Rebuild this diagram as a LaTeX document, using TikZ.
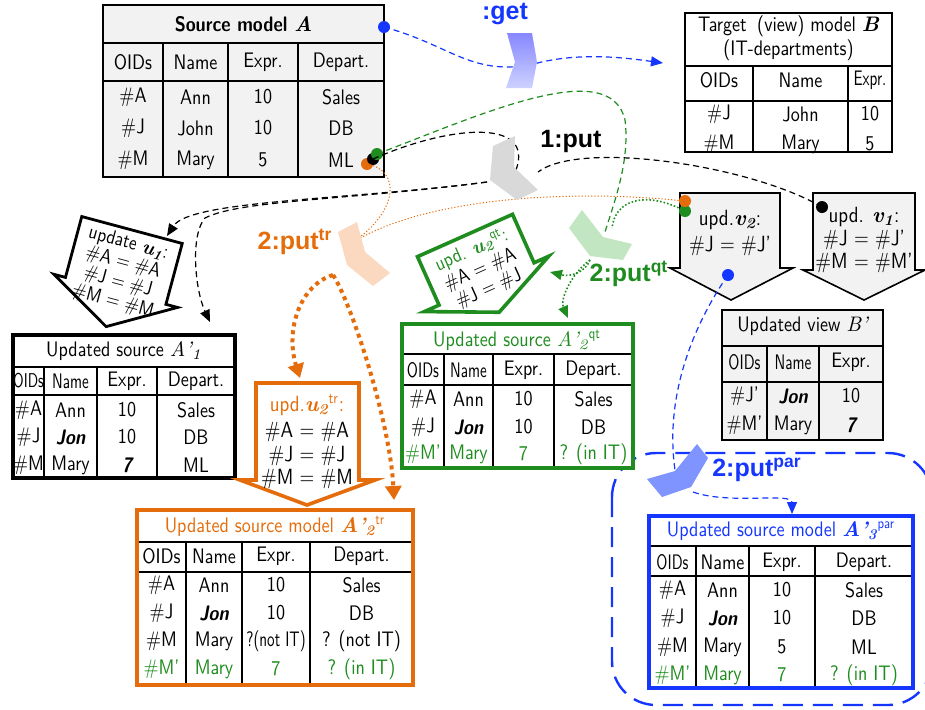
\documentclass[tikz,border=0pt]{standalone}
\usepackage{fontspec}
\usetikzlibrary{arrows.meta}
\newfontfamily\cf{lmsans10-regular}[Extension=.otf,FakeStretch=0.86,BoldFont=lmsans10-bold,ItalicFont=lmsans10-oblique,BoldItalicFont=lmsans10-boldoblique]
\newfontfamily\cfn{lmsans10-regular}[Extension=.otf,FakeStretch=0.72]
\newfontfamily\lf{Liberation Sans}
\definecolor{cor}{HTML}{E46C0A}
\definecolor{cgr}{HTML}{1E8C1E}
\definecolor{cbl}{HTML}{1436FF}
\definecolor{tgray}{HTML}{F2F2F2}
\definecolor{chgray}{HTML}{D9D9D9}
\definecolor{chor}{HTML}{FAD9C0}
\definecolor{chgr}{HTML}{C2E6C2}
\definecolor{chbl}{HTML}{7F94FF}
\newcommand\mv[1]{{\rmfamily\bfseries\itshape #1}}
\newcommand\mvn[1]{{\rmfamily\itshape #1}}
\newcommand\tightlines{\lineskiplimit -10pt\relax}
\tikzset{
  cell/.style={font=\cf\fontsize{10.5}{12}\selectfont, inner sep=0pt, anchor=center},
  atext/.style={font=\cf\fontsize{11}{12}\selectfont, inner sep=0pt, anchor=center},
  rtext/.style={font=\cf\fontsize{10}{10}\selectfont, inner sep=0pt, anchor=center, transform shape, align=center},
  rtextb/.style={font=\cf\fontsize{10}{10.5}\selectfont, inner sep=0pt, anchor=center, transform shape, align=center},
  lab/.style={font=\lf\bfseries\fontsize{12.5}{14}\selectfont, inner sep=0pt, anchor=center},
  thin/.style={line width=0.7pt},
  frame/.style={line width=0.9pt},
  thickframe/.style={line width=1.8pt},
  dot/.style={circle, inner sep=0pt, minimum size=6pt},
  kdash/.style={black, line width=0.6pt, dash pattern=on 3pt off 2pt},
  gdash/.style={cgr, line width=0.6pt, dash pattern=on 3pt off 2pt},
  bdash/.style={cbl, line width=0.6pt, dash pattern=on 3pt off 2pt},
  othin/.style={cor, line width=0.5pt, dash pattern=on 0.6pt off 1pt},
  othick/.style={cor, line width=2pt, dash pattern=on 2pt off 2pt},
  gdot/.style={cgr, line width=0.8pt, dash pattern=on 0.8pt off 1pt},
  tip/.style={-{Triangle[length=6pt,width=5pt]}},
  bigtip/.style={-{Triangle[length=7pt,width=8pt]}}
}
\newcommand\tgrid[8]{%
  \draw[thin] (#1,#4) -- (#2,#4) (#1,#5) -- (#2,#5);
  \foreach \cx in {#7} {\draw[thin] (\cx,#4) -- (\cx,#6);}
  \draw[#8] (#1,#3) rectangle (#2,#6);
}
\newcommand\trow[4][black]{\foreach \cx/\ct [count=\ci] in {#4} {\node[cell,text=#1] (#2-\ci) at (\cx,#3) {\ct};}}
\begin{document}
\begin{tikzpicture}[x=0.5pt,y=-0.5pt]
\useasboundingbox (0,0) rectangle (925,709);
% blue dashed group
\draw[cbl, line width=1.2pt, dash pattern=on 10pt off 5pt, rounded corners=22pt] (612,453) rectangle (932,705);
% Source model A
\fill[tgray] (103,5) rectangle (384,177);
\tgrid{103}{384}{5}{43}{81}{177}{163,228,298}{frame}
\node[cell] (A-t) at (243.5,24) {\bfseries Source model \mv{A}};
\trow{A-h}{62}{133/OIDs,195.5/Name,263/Expr.,341/Depart.}
\trow{A-r1}{97}{133/\#A,195.5/Ann,263/10,341/Sales}
\trow{A-r2}{128}{133/\#J,195.5/John,263/10,341/DB}
\trow{A-r3}{160}{133/\#M,195.5/Mary,263/5,341/ML}
% Target B
\fill[white] (685,13) rectangle (892,152);
\tgrid{685}{892}{13}{66}{101}{152}{753,848}{frame}
\node[cell] (B-t1) at (788.5,26) {Target\enspace(view) model \mv{B}};
\node[cell] (B-t2) at (788.5,50) {(IT-departments)};
\trow{B-h}{80}{719/OIDs,800.5/Name,870/{\cfn Expr.}}
\trow{B-r1}{114}{719/\#J,800.5/John,870/10}
\trow{B-r2}{144}{719/\#M,800.5/Mary,870/5}
% Updated view B'
\fill[tgray] (722,310) rectangle (883,440);
\tgrid{722}{883}{310}{346}{382}{440}{767,819}{frame}
\node[cell] (Bp-t) at (802.5,326) {Updated view \mvn{B’}};
\trow{Bp-h}{362}{744.5/{\cfn OIDs},793/{\cfn Name},851/Expr.}
\trow{Bp-r1}{396}{744.5/\#J’,793/{\bfseries\itshape Jon},851/10}
\trow{Bp-r2}{425}{744.5/\#M’,793/Mary,851/{\bfseries\itshape 7}}
% Updated source A'1
\fill[white] (13,335) rectangle (235,478);
\tgrid{13}{235}{335}{367}{395}{478}{44,97,157}{thickframe}
\node[cell] (A1-t) at (124,351) {Updated source \mvn{A’\textsubscript{1}}};
\trow{A1-h}{381}{28.5/{\cfn\fontsize{10}{12}\selectfont OIDs},70.5/{\cfn Name},127/Expr.,196/Depart.}
\trow{A1-r1}{410}{28.5/\#A,70.5/Ann,127/10,196/Sales}
\trow{A1-r2}{437}{28.5/\#J,70.5/{\bfseries\itshape Jon},127/10,196/DB}
\trow{A1-r3}{465}{28.5/\#M,70.5/Mary,127/{\bfseries\itshape 7},196/ML}
% Updated source model A'2 tr
\fill[white] (137,510) rectangle (413,685);
\tgrid{137}{413}{510}{542}{572}{685}{186,242,310}{thickframe,draw=cor}
\node[cell,text=cor] (A2tr-t) at (275,526) {Updated source model \mv{A’\textsubscript{2}}\textsuperscript{tr}};
\trow{A2tr-h}{556}{161.5/OIDs,214/Name,276/Expr.,361.5/Depart.}
\trow{A2tr-r1}{585}{161.5/\#A,214/Ann,276/10,361.5/Sales}
\trow{A2tr-r2}{613}{161.5/\#J,214/{\bfseries\itshape Jon},276/10,361.5/DB}
\trow{A2tr-r3}{641}{161.5/\#M,214/Mary,276/{\cfn ?(not IT)},361.5/? (not IT)}
\trow[cgr]{A2tr-r4}{669}{161.5/\#M’,214/Mary,276/7,361.5/? (in IT)}
% Updated source A'2 qt
\fill[white] (402,324) rectangle (633,468);
\tgrid{402}{633}{324}{354}{385}{468}{444,493,554}{thickframe,draw=cgr}
\node[cell,text=cgr] (A2qt-t) at (517,340) {Updated source \mvn{A’\textsubscript{2}}\textsuperscript{qt}};
\trow{A2qt-h}{370}{423/{\cfn OIDs},468.5/{\cfn Name},523.5/Expr.,593.5/Depart.}
\trow{A2qt-r1}{399}{423/\#A,468.5/Ann,523.5/10,593.5/Sales}
\trow{A2qt-r2}{427}{423/\#J,468.5/{\bfseries\itshape Jon},523.5/10,593.5/DB}
\trow[cgr]{A2qt-r3}{454}{423/\#M’,468.5/Mary,523.5/7,593.5/? (in IT)}
% Updated source model A'3 par
\fill[white] (649,516) rectangle (913,688);
\tgrid{649}{913}{516}{546}{576}{688}{696,749,815}{thickframe,draw=cbl}
\node[cell,text=cbl] (A3-t) at (781,531) {Updated source model \mv{A’\textsubscript{3}}\textsuperscript{par}};
\trow{A3-h}{562}{672.5/{\cfn OIDs},722.5/Name,782/Expr.,864/Depart.}
\trow{A3-r1}{590}{672.5/\#A,722.5/Ann,782/10,864/Sales}
\trow{A3-r2}{618}{672.5/\#J,722.5/{\bfseries\itshape Jon},782/10,864/DB}
\trow{A3-r3}{647}{672.5/\#M,722.5/Mary,782/5,864/ML}
\trow[cgr]{A3-r4}{675}{672.5/\#M’,722.5/Mary,782/7,864/? (in IT)}
% block arrows v2, v1
\filldraw[fill=tgray, line width=0.8pt] (680,193) -- (780,193) -- (780,268) -- (793,268) -- (731,300) -- (670,268) -- (680,268) -- cycle;
\node[atext] (v2-1) at (730,220) {upd.\mv{v}\textsubscript{\mv{2}}:};
\node[atext] (v2-2) at (730,246) {\#J = \#J’};
\filldraw[fill=tgray, line width=0.8pt] (813,193) -- (915,193) -- (915,270) -- (925,270) -- (864,300) -- (803,270) -- (813,270) -- cycle;
\node[atext] (v1-1) at (864,217) {upd. \mv{v}\textsubscript{\mv{1}}:};
\node[atext] (v1-2) at (864,240) {\#J = \#J’};
\node[atext] (v1-3) at (864,263) {\#M = \#M’};
% u2 tr
\filldraw[fill=white, draw=cor, line width=1.8pt] (256,383) -- (359,383) -- (359,480) -- (375,480) -- (307,505) -- (240,480) -- (256,480) -- cycle;
\node[atext,text=cor] (u2tr-1) at (307,405) {upd.\mv{u}\textsubscript{\mv{2}}\textsuperscript{tr}:};
\node[atext] (u2tr-2) at (307,432) {\#A = \#A};
\node[atext] (u2tr-3) at (307,456) {\#J = \#J};
\node[atext] (u2tr-4) at (307,479) {\#M = \#M};
% u1
\begin{scope}[shift={(132,230)}, rotate=-15]
\filldraw[fill=white, line width=1.4pt] (-52,0) -- (52,0) -- (52,63) -- (64,63) -- (0,100) -- (-64,63) -- (-52,63) -- cycle;
\node[rtext] (u1-t) at (0,44) {\tightlines update \mv{u}\textsubscript{\mv{1}}:\\ \#A = \#A\\ \#J = \#J\\ \#M = \#M};
\end{scope}
% u2 qt
\begin{scope}[shift={(465,235.5)}, rotate=24]
\filldraw[fill=white, draw=cgr, line width=1.8pt] (-52,0) -- (52,0) -- (52,53) -- (68,53) -- (0,84) -- (-68,53) -- (-52,53) -- cycle;
\node[rtextb] (u2qt-t) at (0,37) {\tightlines {\color{cgr}upd. \mv{u}\textsubscript{\mv{2}}\textsuperscript{qt}:}\\ \#A = \#A\\ \#J = \#J};
\end{scope}
% dots
\node[dot, fill=cbl] (dA) at (384,27) {};
\node[dot, fill=cor] (dAo) at (367,164) {};
\node[dot, fill=black] (dAk) at (373,159) {};
\node[dot, fill=cgr] (dAg) at (377,154) {};
\node[dot, fill=cgr] (dv2g) at (685,211) {};
\node[dot, fill=cor] (dv2o) at (685,201) {};
\node[dot, fill=black] (dv1) at (822,207) {};
\node[dot, fill=cbl] (dv2b) at (728,275) {};
% coordinates
\coordinate (getM) at (530,65);
\coordinate (getE) at (663,63);
\coordinate (gq1) at (625,120);
\coordinate (gqin) at (605,232);
\coordinate (p1in) at (516,170);
\coordinate (p1in2) at (538,172);
\coordinate (p1out) at (487,182);
\coordinate (c1) at (205,218);
\coordinate (u1in) at (167,236);
\coordinate (A1in) at (210,322);
\coordinate (ptrin) at (352,243);
\coordinate (ptrout) at (333,275);
\coordinate (u2trin) at (300,378);
\coordinate (A2trin) at (394,500);
\coordinate (pqtin2) at (612,228);
\coordinate (pqtout) at (590,260);
\coordinate (u2qtin) at (550,272);
\coordinate (A2qtin) at (568,318);
\coordinate (pparin) at (675,470);
\coordinate (pparout) at (693,492);
\coordinate (A3in) at (792,514);
% connectors
\draw[bdash, tip] (dA.center) .. controls (450,45) and (470,75) .. (getM) .. controls (575,52) and (620,57) .. (getE);
\draw[gdash] (dAg.center) .. controls (480,115) and (610,55) .. (gq1) .. controls (630,160) and (615,200) .. (gqin);
\draw[kdash] (dAk.center) .. controls (450,125) and (535,118) .. (p1in);
\draw[kdash] (dv1.center) .. controls (750,165) and (580,140) .. (p1in2);
\draw[kdash, tip] (p1out) .. controls (350,200) and (190,200) .. (u1in);
\draw[kdash, tip] (p1out) .. controls (350,200) and (240,200) .. (c1) .. controls (190,235) and (195,290) .. (A1in);
\draw[othin] (dAo.center) .. controls (400,170) and (400,210) .. (ptrin);
\draw[othin] (dv2o.center) .. controls (560,188) and (420,200) .. (ptrin);
\draw[othick, bigtip] (ptrout) .. controls (300,285) and (285,330) .. (u2trin);
\draw[othick, bigtip] (ptrout) .. controls (350,300) and (390,420) .. (A2trin);
\draw[gdot] (dv2g.center) .. controls (645,190) and (615,200) .. (pqtin2);
\draw[gdot, tip] (pqtout) .. controls (585,273) and (570,277) .. (u2qtin);
\draw[gdot, tip] (pqtout) .. controls (570,275) and (560,300) .. (A2qtin);
\draw[bdash] (dv2b.center) .. controls (690,330) and (665,400) .. (pparin);
\draw[bdash, tip] (pparout) .. controls (730,505) and (792,492) .. (A3in);
% chevrons
\shade[top color={rgb,255:red,135;green,135;blue,255}, bottom color={rgb,255:red,205;green,210;blue,255}] (507,33) -- (532,33) -- (537,62) -- (532,88) -- (506,88) -- (515,62) -- cycle;
\fill[chgray] (515,136) -- (514,167) -- (538,190) -- (517,200) -- (490,180) -- (493,146) -- cycle;
\fill[chor] (338,232) -- (357,222) -- (365,252) -- (390,273) -- (373,286) -- (347,265) -- cycle;
\fill[chgr] (569,228) -- (582,210) -- (603,237) -- (632,244) -- (623,260) -- (590,256) -- cycle;
\fill[chbl] (647,479) -- (675,471) -- (697,444) -- (708,458) -- (691,487) -- (662,497) -- cycle;
% labels
\node[lab, text=cbl] (Lget) at (505,14) {:get};
\node[lab] (L1) at (571,141) {1:put};
\node[lab, text=cor] (Ltr) at (295,242) {2:put\textsuperscript{tr}};
\node[lab, text=cgr] (Lqt) at (629,274) {2:put\textsuperscript{qt}};
\node[lab, text=cbl] (Lpar) at (757,470) {2:put\textsuperscript{par}};
\end{tikzpicture}
\end{document}
